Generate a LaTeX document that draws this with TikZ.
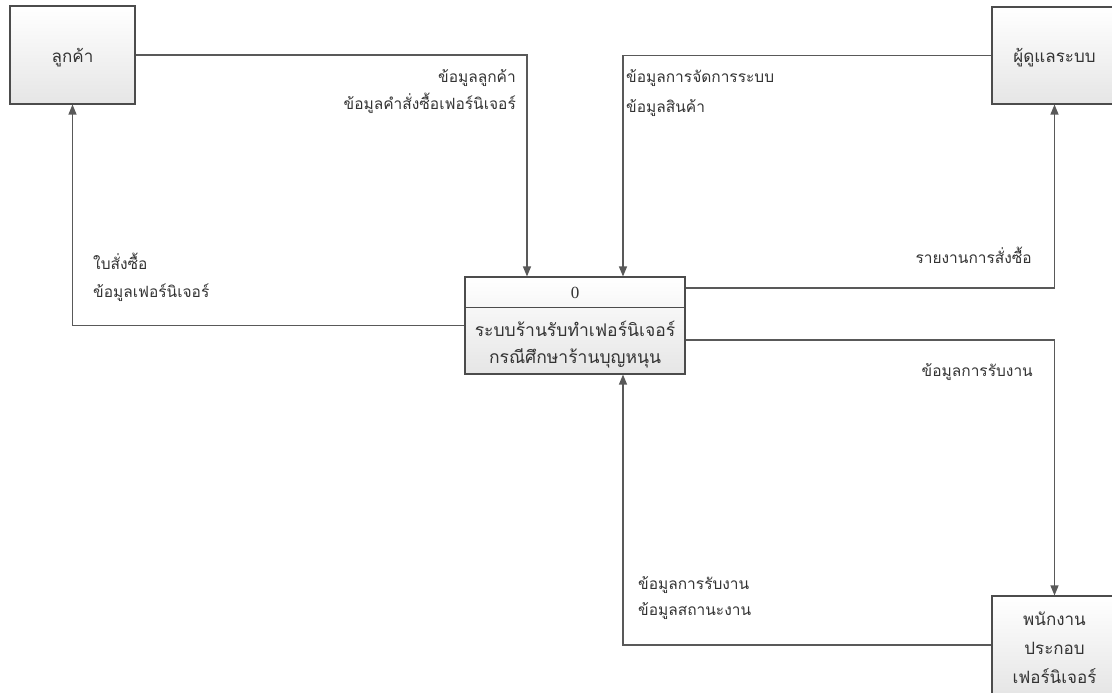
\documentclass[tikz,border=0pt]{standalone}
\usepackage{fontspec}
\setmainfont{Liberation Serif}
\newfontfamily\thai[Script=Thai]{Loma}
\usetikzlibrary{arrows.meta,calc}
\begin{document}
\begin{tikzpicture}[x=1pt,y=-1pt,
  ent/.style={draw=black!70, line width=1.1pt, top color=white, bottom color=black!10,
    minimum width=125pt, minimum height=98pt, inner sep=0pt,
    font=\thai\fontsize{17}{29}\selectfont, text=black!80, align=center},
  flow/.style={draw=black!65, line width=1.2pt, -{Triangle[length=10pt,width=8pt]}},
  lbl/.style={font=\thai\fontsize{15.5}{27}\selectfont, text=black!80, inner sep=0pt,
    text height=11pt, text depth=3pt},
  ptxt/.style={font=\thai\fontsize{17.5}{27}\selectfont, text=black!80, align=center, inner sep=0pt}]
\useasboundingbox (0,0) rectangle (1112,693);
\clip (0,0) rectangle (1112,693);
% entities
\node[ent, text depth=-4pt] (cust) at (72.5,55) {ลูกค้า};
\node[ent, minimum height=97pt, text depth=-4pt] (admin) at (1054.5,55.5) {ผู้ดูแลระบบ};
\node[ent] (worker) at (1054.5,645) {};
\node[ptxt, font=\thai\fontsize{17}{29}\selectfont] (wtxt) at ($(worker.center)+(0,3)$) {พนักงาน\\ประกอบ\\เฟอร์นิเจอร์};
% process
\node[ent, minimum width=220pt, minimum height=97pt] (proc) at (575,325.5) {};
\draw[draw=black!70, line width=1.1pt] ($(proc.north west)+(0,31)$) coordinate (dl) -- ($(proc.north east)+(0,31)$) coordinate (dr);
\node[ptxt, font=\fontsize{17}{20}\selectfont] (pnum) at ($(proc.north)+(0,16)$) {0};
\node[ptxt] (pname) at ($(proc.center)+(0,19)$) {ระบบร้านรับทำเฟอร์นิเจอร์\\กรณีศึกษาร้านบุญหนุน};
% flows
\draw[flow] (cust.east) -| ([xshift=-48pt]proc.north);
\draw[flow] (admin.west) -| ([xshift=48pt]proc.north);
\draw[flow] (proc.west) -| (cust.south);
\draw[flow] ([yshift=37.5pt]proc.east) -| (admin.south);
\draw[flow] ([yshift=-14.5pt]proc.east) -| (worker.north);
\draw[flow] (worker.west) -| ([xshift=48pt]proc.south);
% labels
\node[lbl, anchor=east] (l1a) at (516,79) {ข้อมูลลูกค้า};
\node[lbl, anchor=east] (l1b) at (516,106) {ข้อมูลคำสั่งซื้อเฟอร์นิเจอร์};
\node[lbl, anchor=west] (l2a) at (626,78) {ข้อมูลการจัดการระบบ};
\node[lbl, anchor=west] (l2b) at (626,109) {ข้อมูลสินค้า};
\node[lbl, anchor=west] (l3a) at (93,265) {ใบสั่งซื้อ};
\node[lbl, anchor=west] (l3b) at (93,293) {ข้อมูลเฟอร์นิเจอร์};
\node[lbl, anchor=east] (l4) at (1032,259) {รายงานการสั่งซื้อ};
\node[lbl, anchor=east] (l5) at (1033,372) {ข้อมูลการรับงาน};
\node[lbl, anchor=west] (l6a) at (638,585) {ข้อมูลการรับงาน};
\node[lbl, anchor=west] (l6b) at (638,611) {ข้อมูลสถานะงาน};
\end{tikzpicture}
\end{document}
